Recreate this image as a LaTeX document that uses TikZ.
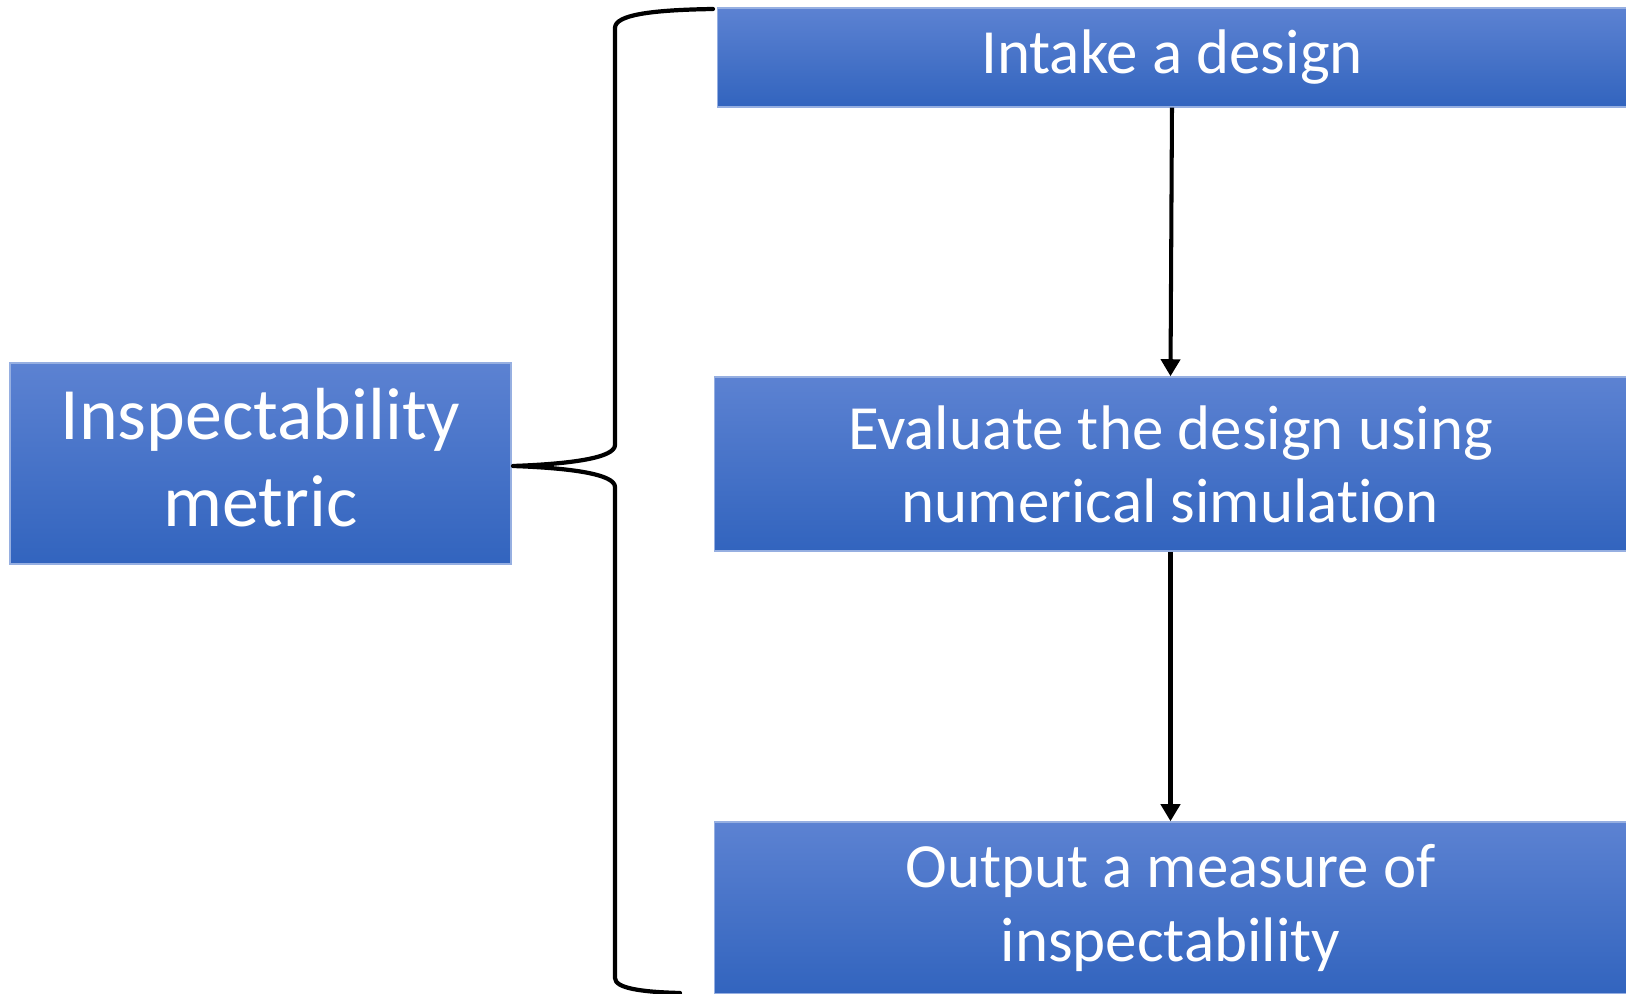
\documentclass[tikz,border=0pt]{standalone}
\usepackage{fontspec}
\setmainfont[Ligatures=NoCommon]{Carlito}
\usetikzlibrary{arrows.meta}
\definecolor{boxtop}{RGB}{92,130,210}
\definecolor{boxbot}{RGB}{50,100,190}
\definecolor{boxedge}{RGB}{150,175,225}
\tikzset{
  stepbox/.style={rectangle, draw=boxedge, line width=0.4pt, top color=boxtop, bottom color=boxbot,
    text=white, align=center, inner sep=0pt, anchor=center},
  bodytext/.style={font=\fontsize{17.9}{20.8}\selectfont},
  bigtext/.style={font=\fontsize{21}{24.8}\selectfont},
  flow/.style={line width=1.15pt, -{Triangle[width=1.9mm,length=1.7mm]}},
  bracket/.style={line width=1.2pt, line cap=round, line join=round}
}
\begin{document}
\begin{tikzpicture}[x=0.01cm, y=-0.01cm]
\useasboundingbox (0,0) rectangle (1626,994);
% left label box
\node[stepbox, bigtext, minimum width=5.01cm, minimum height=2.01cm] (metric) at (260.5,463.5)
  {Inspectability\\metric\vphantom{g}};
% the three steps
\node[stepbox, bodytext, minimum width=9.08cm, minimum height=0.99cm] (intake) at (1172,57.5)
  {Intake a design};
\node[stepbox, bodytext, minimum width=9.11cm, minimum height=1.74cm] (evaluate) at (1170.5,464)
  {Evaluate the design using\\numerical simulation};
\node[stepbox, bodytext, minimum width=9.11cm, minimum height=1.72cm] (output) at (1170.5,908)
  {Output a measure of\\inspectability};
% flow arrows
\draw[flow] (intake.south) -- (evaluate.north);
\draw[flow] (evaluate.south) -- (output.north);
% curly bracket grouping the steps
\coordinate (tip) at (513,466);
\draw[bracket] (713,9) .. controls (650,10) and (615,15) .. (615,28)
  -- (615,445) .. controls (615,458) and (570,464) .. (tip)
  .. controls (570,468) and (615,474) .. (615,487)
  -- (615,978) .. controls (615,988) and (640,992) .. (680,993);
\end{tikzpicture}
\end{document}
